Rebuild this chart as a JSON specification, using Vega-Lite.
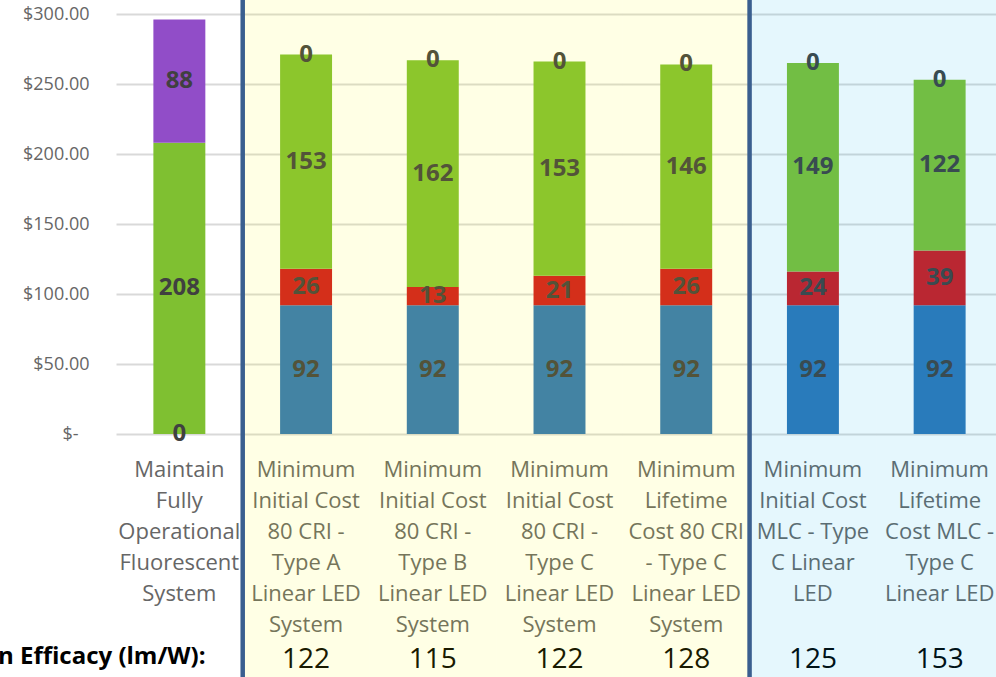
{
  "$schema": "https://vega.github.io/schema/vega-lite/v6.json",
  "width": 880,
  "height": 420,
  "autosize": {"type": "none"},
  "padding": {"left": 116, "top": 14, "right": 0, "bottom": 243},
  "background": "white",
  "config": {"view": {"stroke": null}, "font": "Open Sans"},
  "datasets": {
    "costs": [
      {"system": "Maintain\nFully\nOperational\nFluorescent\nSystem", "component": "Equipment", "cost": 0},
      {"system": "Maintain\nFully\nOperational\nFluorescent\nSystem", "component": "Energy", "cost": 208},
      {"system": "Maintain\nFully\nOperational\nFluorescent\nSystem", "component": "Maintenance", "cost": 88},
      {"system": "Minimum\nInitial Cost\n80 CRI -\nType A\nLinear LED\nSystem", "component": "Equipment", "cost": 92},
      {"system": "Minimum\nInitial Cost\n80 CRI -\nType A\nLinear LED\nSystem", "component": "Installation", "cost": 26},
      {"system": "Minimum\nInitial Cost\n80 CRI -\nType A\nLinear LED\nSystem", "component": "Energy", "cost": 153},
      {"system": "Minimum\nInitial Cost\n80 CRI -\nType A\nLinear LED\nSystem", "component": "Maintenance", "cost": 0},
      {"system": "Minimum\nInitial Cost\n80 CRI -\nType B\nLinear LED\nSystem", "component": "Equipment", "cost": 92},
      {"system": "Minimum\nInitial Cost\n80 CRI -\nType B\nLinear LED\nSystem", "component": "Installation", "cost": 13},
      {"system": "Minimum\nInitial Cost\n80 CRI -\nType B\nLinear LED\nSystem", "component": "Energy", "cost": 162},
      {"system": "Minimum\nInitial Cost\n80 CRI -\nType B\nLinear LED\nSystem", "component": "Maintenance", "cost": 0},
      {"system": "Minimum\nInitial Cost\n80 CRI -\nType C\nLinear LED\nSystem", "component": "Equipment", "cost": 92},
      {"system": "Minimum\nInitial Cost\n80 CRI -\nType C\nLinear LED\nSystem", "component": "Installation", "cost": 21},
      {"system": "Minimum\nInitial Cost\n80 CRI -\nType C\nLinear LED\nSystem", "component": "Energy", "cost": 153},
      {"system": "Minimum\nInitial Cost\n80 CRI -\nType C\nLinear LED\nSystem", "component": "Maintenance", "cost": 0},
      {"system": "Minimum\nLifetime\nCost 80 CRI\n-  Type C\nLinear LED\nSystem", "component": "Equipment", "cost": 92},
      {"system": "Minimum\nLifetime\nCost 80 CRI\n-  Type C\nLinear LED\nSystem", "component": "Installation", "cost": 26},
      {"system": "Minimum\nLifetime\nCost 80 CRI\n-  Type C\nLinear LED\nSystem", "component": "Energy", "cost": 146},
      {"system": "Minimum\nLifetime\nCost 80 CRI\n-  Type C\nLinear LED\nSystem", "component": "Maintenance", "cost": 0},
      {"system": "Minimum\nInitial Cost\nMLC - Type\nC Linear\nLED", "component": "Equipment", "cost": 92},
      {"system": "Minimum\nInitial Cost\nMLC - Type\nC Linear\nLED", "component": "Installation", "cost": 24},
      {"system": "Minimum\nInitial Cost\nMLC - Type\nC Linear\nLED", "component": "Energy", "cost": 149},
      {"system": "Minimum\nInitial Cost\nMLC - Type\nC Linear\nLED", "component": "Maintenance", "cost": 0},
      {"system": "Minimum\nLifetime\nCost MLC -\nType C\nLinear LED", "component": "Equipment", "cost": 92},
      {"system": "Minimum\nLifetime\nCost MLC -\nType C\nLinear LED", "component": "Installation", "cost": 39},
      {"system": "Minimum\nLifetime\nCost MLC -\nType C\nLinear LED", "component": "Energy", "cost": 122},
      {"system": "Minimum\nLifetime\nCost MLC -\nType C\nLinear LED", "component": "Maintenance", "cost": 0}
    ],
    "systems": [
      {"system": "Maintain\nFully\nOperational\nFluorescent\nSystem", "group": "Fluorescent", "efficacy": null},
      {"system": "Minimum\nInitial Cost\n80 CRI -\nType A\nLinear LED\nSystem", "group": "80 CRI", "efficacy": 122},
      {"system": "Minimum\nInitial Cost\n80 CRI -\nType B\nLinear LED\nSystem", "group": "80 CRI", "efficacy": 115},
      {"system": "Minimum\nInitial Cost\n80 CRI -\nType C\nLinear LED\nSystem", "group": "80 CRI", "efficacy": 122},
      {"system": "Minimum\nLifetime\nCost 80 CRI\n-  Type C\nLinear LED\nSystem", "group": "80 CRI", "efficacy": 128},
      {"system": "Minimum\nInitial Cost\nMLC - Type\nC Linear\nLED", "group": "MLC", "efficacy": 125},
      {"system": "Minimum\nLifetime\nCost MLC -\nType C\nLinear LED", "group": "MLC", "efficacy": 153}
    ]
  },
  "layer": [
    {
      "data": {"name": "costs"},
      "transform": [
        {"calculate": "indexof(['Equipment','Installation','Energy','Maintenance'], datum.component)", "as": "ord"},
        {"stack": "cost", "groupby": ["system"], "sort": [{"field": "ord", "order": "ascending"}], "as": ["c0", "c1"]}
      ],
      "mark": {"type": "bar", "width": {"band": 0.41}},
      "encoding": {
        "x": {
          "field": "system", "type": "nominal", "sort": null,
          "scale": {"type": "band", "paddingInner": 0, "paddingOuter": 0, "range": [0, 887]},
          "axis": {
            "orient": "bottom", "domain": false, "ticks": false, "grid": false,
            "labelAngle": 0, "labelExpr": "split(datum.label, '\\n')",
            "labelFont": "Open Sans", "labelFontSize": 22, "labelLineHeight": 31,
            "labelBaseline": "top", "labelPadding": 25, "labelColor": "#666666",
            "labelOverlap": false, "labelFlush": false, "labelLimit": 0,
            "title": "n Efficacy (lm/W):", "titleX": 89, "titleY": 222,
            "titleAlign": "right", "titleBaseline": "middle", "titleAngle": 0,
            "titleFont": "Open Sans", "titleFontSize": 24, "titleFontWeight": "bold", "titleColor": "#000000"
          }
        },
        "y": {
          "field": "c0", "type": "quantitative",
          "scale": {"domain": [0, 300], "nice": false},
          "axis": {
            "values": [0, 50, 100, 150, 200, 250, 300],
            "labelExpr": "datum.value == 0 ? '$-' : '$' + format(datum.value, '.2f')",
            "domain": false, "ticks": false, "grid": true,
            "gridColor": "#d9d9d9", "gridWidth": 2,
            "labelFont": "Open Sans", "labelFontSize": 18, "labelColor": "#666666",
            "labelPadding": {"condition": {"test": "datum.value == 0", "value": 38}, "value": 27},
            "title": null
          }
        },
        "y2": {"field": "c1"},
        "color": {
          "field": "component", "type": "nominal",
          "scale": {"domain": ["Equipment", "Installation", "Energy", "Maintenance"], "range": ["#2E75B6", "#D0181E", "#7FC031", "#914DC8"]},
          "legend": null
        }
      }
    },
    {
      "data": {"name": "costs"},
      "transform": [
        {"calculate": "indexof(['Equipment','Installation','Energy','Maintenance'], datum.component)", "as": "ord"},
        {"stack": "cost", "groupby": ["system"], "sort": [{"field": "ord", "order": "ascending"}], "as": ["c0", "c1"]},
        {"calculate": "(datum.c0 + datum.c1) / 2", "as": "cmid"}
      ],
      "mark": {"type": "text", "font": "Open Sans", "fontSize": 24, "fontWeight": "bold", "color": "#404040", "baseline": "middle", "align": "center"},
      "encoding": {
        "x": {"field": "system", "type": "nominal", "sort": null},
        "y": {"field": "cmid", "type": "quantitative"},
        "text": {"field": "cost", "type": "quantitative", "format": "d"}
      }
    },
    {
      "data": {"name": "systems"},
      "transform": [{"filter": "datum.efficacy != null"}],
      "mark": {"type": "text", "font": "Open Sans", "fontSize": 28, "color": "#000000", "baseline": "middle", "align": "center"},
      "encoding": {
        "x": {"field": "system", "type": "nominal", "sort": null},
        "y": {"datum": -161.5},
        "text": {"field": "efficacy", "type": "quantitative", "format": "d"}
      }
    },
    {
      "data": {"name": "systems"},
      "transform": [{"filter": "datum.group != 'Fluorescent'"}],
      "mark": {"type": "bar", "fillOpacity": 0.1, "width": {"band": 1}},
      "encoding": {
        "x": {"field": "system", "type": "nominal", "sort": null},
        "y": {"datum": 310},
        "y2": {"datum": -174},
        "fill": {
          "field": "group", "type": "nominal",
          "scale": {"domain": ["80 CRI", "MLC"], "range": ["#FFFF00", "#00B0F0"]},
          "legend": null
        }
      }
    },
    {
      "data": {"name": "systems"},
      "transform": [
        {"window": [{"op": "row_number", "as": "pos"}], "groupby": ["group"]},
        {"filter": "datum.pos == 1 && datum.group != 'Fluorescent'"}
      ],
      "mark": {"type": "rule", "stroke": "#3A5F8F", "strokeWidth": 4.5},
      "encoding": {
        "x": {"field": "system", "type": "nominal", "sort": null, "bandPosition": 0},
        "y": {"datum": 310},
        "y2": {"datum": -174}
      }
    }
  ]
}
